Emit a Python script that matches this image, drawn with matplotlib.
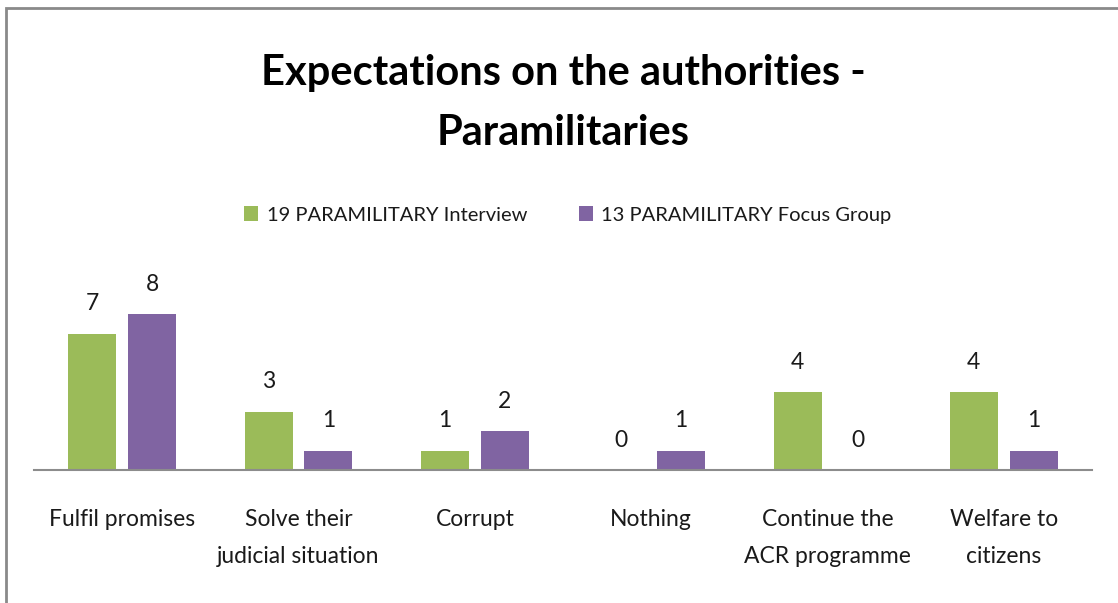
import matplotlib
matplotlib.use("Agg")
import matplotlib.pyplot as plt
import numpy as np
from matplotlib.patches import Rectangle

categories = ["Fulfil promises", "Solve their\njudicial situation", "Corrupt", "Nothing",
              "Continue the\nACR programme", "Welfare to\ncitizens"]
interview = [7, 3, 1, 0, 4, 4]
focus_group = [8, 1, 2, 1, 0, 1]
series_names = ["19 PARAMILITARY Interview", "13 PARAMILITARY Focus Group"]
title = "Expectations on the authorities -\nParamilitaries"

green = "#9BBB59"
purple = "#8064A2"
FONT = ["Lato", "DejaVu Sans"]
plt.rcParams['font.family'] = FONT

W, H = 1118, 603
fig = plt.figure(figsize=(W / 100, H / 100), dpi=100)
ax = fig.add_axes([34 / W, 1 - 470 / H, (1092 - 34) / W, (470 - 294.5) / H])

x = np.arange(len(categories))
bw = 0.272
off = 0.17
b1 = ax.bar(x - off, interview, bw, color=green, label=series_names[0])
b2 = ax.bar(x + off, focus_group, bw, color=purple, label=series_names[1])
for bars in (b1, b2):
    ax.bar_label(bars, padding=14, fontsize=16.5, color="#1a1a1a")

ax.set_xlim(-0.5, len(categories) - 0.5)
ax.set_ylim(0, 9)
ax.set_yticks([])
ax.set_xticks(x)
ax.set_xticklabels(categories, fontsize=16.5, color="#1a1a1a", linespacing=1.92)
ax.tick_params(axis="x", length=0, pad=28)
for s in ["top", "right", "left"]:
    ax.spines[s].set_visible(False)
ax.spines["bottom"].set_color("#8c8c8c")
ax.spines["bottom"].set_linewidth(1.5)

fig.text(563 / W, 1 - 103 / H, title, ha="center", va="center", fontsize=30,
         fontweight="bold", linespacing=1.68, color="black")

leg = fig.legend(handles=[b1, b2], loc="center", bbox_to_anchor=(568 / W, 1 - 215 / H),
                 ncol=2, frameon=False, fontsize=14.5, handlelength=0.7, handleheight=0.7,
                 handletextpad=0.4, columnspacing=2.6)
for t in leg.get_texts():
    t.set_color("#1a1a1a")

fig.patches.append(Rectangle((6 / W, -0.1), 1.2, 1 - 8 / H + 0.1, transform=fig.transFigure,
                             fill=False, edgecolor="#8a8a8a", linewidth=2))

fig.savefig("out.png", dpi=100)
